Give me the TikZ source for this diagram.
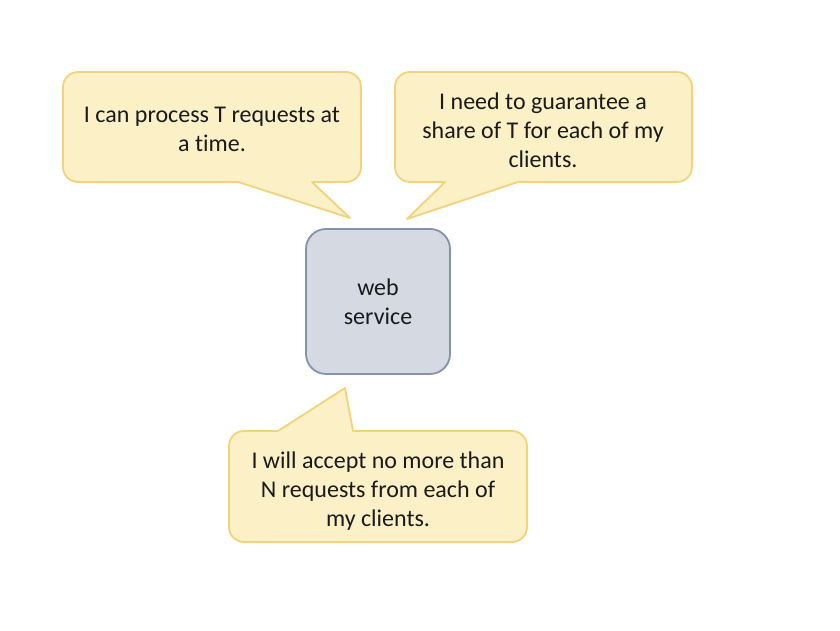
\documentclass[tikz,border=0pt]{standalone}
\usepackage{fontspec}
\setmainfont{Carlito}[RawFeature=-liga]
\definecolor{cfill}{HTML}{FCF0C6}
\definecolor{cline}{HTML}{F3D27C}
\definecolor{wfill}{HTML}{D5D9E2}
\definecolor{wline}{HTML}{8393AC}
\definecolor{txt}{HTML}{1A1A1A}
\tikzset{
  callout/.style={fill=cfill, draw=cline, line width=1.8pt, line join=round},
  ctext/.style={align=center, text=txt, font=\fontsize{24}{29}\selectfont, inner sep=0pt},
  wsbox/.style={fill=wfill, draw=wline, line width=1.8pt, rounded corners=20pt,
    minimum width=144pt, minimum height=145pt, align=center, text=txt,
    font=\fontsize{24}{29}\selectfont}
}
\begin{document}
\begin{tikzpicture}[x=1pt,y=1pt]
\useasboundingbox (0,0) rectangle (840,631);
% callout 1
\draw[callout] (238,449) -- (78,449) arc[start angle=270,end angle=180,radius=15]
  -- (63,544) arc[start angle=180,end angle=90,radius=15]
  -- (346,559) arc[start angle=90,end angle=0,radius=15]
  -- (361,464) arc[start angle=0,end angle=-90,radius=15]
  -- (312,449) -- (350,413) -- cycle;
\node[ctext] (t1) at (212,502) {I can process T requests at\\a time.};
% callout 2
\draw[callout] (445,449) -- (410,449) arc[start angle=270,end angle=180,radius=15]
  -- (395,544) arc[start angle=180,end angle=90,radius=15]
  -- (677,559) arc[start angle=90,end angle=0,radius=15]
  -- (692,464) arc[start angle=0,end angle=-90,radius=15]
  -- (518,449) -- (407,412) -- cycle;
\node[ctext] (t2) at (543,501) {I need to guarantee a\\share of T for each of my\\clients.};
% callout 3
\draw[callout] (278,200) -- (244,200) arc[start angle=90,end angle=180,radius=15]
  -- (229,104) arc[start angle=180,end angle=270,radius=15]
  -- (512,89) arc[start angle=270,end angle=360,radius=15]
  -- (527,185) arc[start angle=0,end angle=90,radius=15]
  -- (353,200) -- (345,243) -- cycle;
\node[ctext] (t3) at (378,140) {I will accept no more than\\N requests from each of\\my clients.};
% web service
\node[wsbox] (ws) at (378,329.5) {web\\service};
\end{tikzpicture}
\end{document}
